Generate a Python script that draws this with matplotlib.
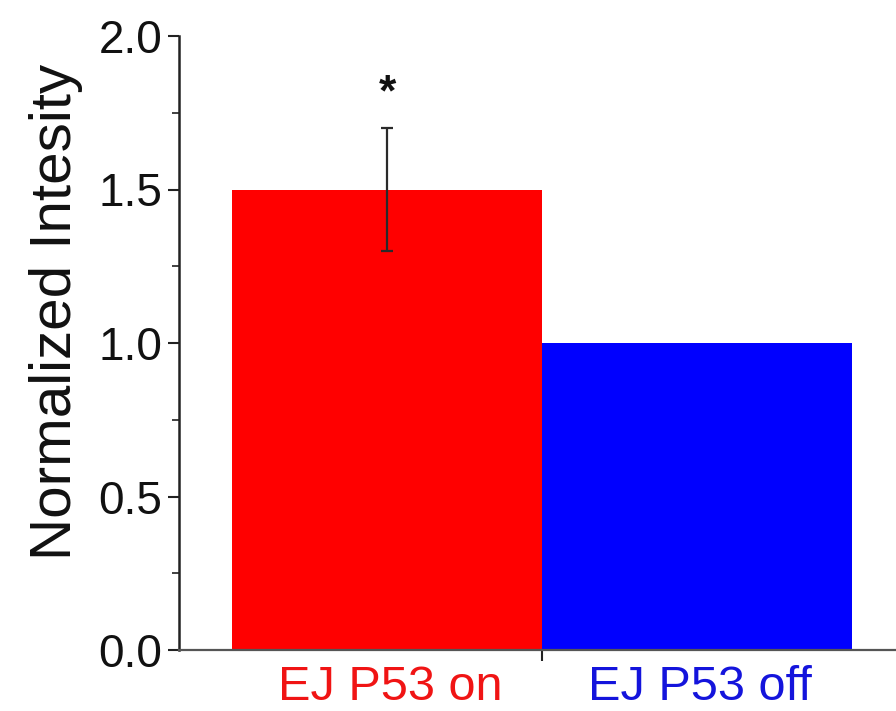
import matplotlib
matplotlib.use("Agg")
import matplotlib.pyplot as plt
from matplotlib.ticker import MultipleLocator, FixedLocator, NullFormatter, FormatStrFormatter

plt.rcParams['font.family'] = ['Liberation Sans', 'DejaVu Sans']

# Data
categories = ["EJ P53 on", "EJ P53 off"]
values = [1.5, 1.0]
errors = [0.2, 0.0]
bar_colors = ["#ff0000", "#0000ff"]
label_colors = ["#f01414", "#1414dc"]
significance = ["*", ""]

fig = plt.figure(figsize=(8.96, 7.11), dpi=100)
ax = fig.add_axes([179 / 896, 61 / 711, 1 - 179 / 896, 614 / 711])

positions = list(range(len(categories)))
ax.bar(positions, values, width=1.0, color=bar_colors, edgecolor="none", zorder=1)

for x, v, e in zip(positions, values, errors):
    if e > 0:
        ax.errorbar(x, v, yerr=e, fmt="none", ecolor="#2a2a2a",
                    elinewidth=1.6, capsize=4.5, capthick=1.6, zorder=3)

for x, v, e, s in zip(positions, values, errors, significance):
    if s:
        ax.text(x, v + e + 0.075, s, ha="center", va="baseline",
                fontsize=32, fontweight="bold", color="#111111")

ax.set_xlim(-0.671, 1.642)
ax.set_ylim(0, 2.0)

# y axis
ax.yaxis.set_major_locator(MultipleLocator(0.5))
ax.yaxis.set_minor_locator(MultipleLocator(0.25))
ax.yaxis.set_major_formatter(FormatStrFormatter("%.1f"))
ax.tick_params(axis="y", which="major", length=8, width=1.5, pad=4,
               labelsize=33, colors="#222222", labelcolor="#111111")
ax.tick_params(axis="y", which="minor", length=5, width=1.3, colors="#333333")

# x axis: a single separator tick between the groups
ax.xaxis.set_major_locator(FixedLocator([0.5]))
ax.xaxis.set_major_formatter(NullFormatter())
ax.tick_params(axis="x", which="major", length=8, width=1.5, colors="#222222")

for x, name, c in zip(positions, categories, label_colors):
    ax.text(x + 0.01, -0.05, name, ha="center", va="top", fontsize=35,
            color=c, transform=ax.transData, clip_on=False)

for side in ("top", "right"):
    ax.spines[side].set_visible(False)
ax.spines["left"].set_linewidth(1.8)
ax.spines["left"].set_color("#222222")
ax.spines["bottom"].set_linewidth(1.6)
ax.spines["bottom"].set_color("#555555")

ax.text(-0.171, 0.55, "Normalized Intesity", rotation=90, ha="center",
        va="center", fontsize=42, color="#111111", transform=ax.transAxes)

fig.savefig("out.png", dpi=100, facecolor="white")
